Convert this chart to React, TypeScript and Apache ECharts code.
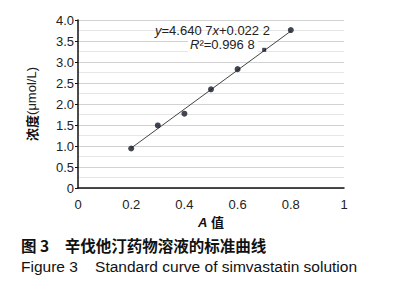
import React, { useEffect, useRef } from "react";
import * as echarts from "echarts";

const absorbance = [0.2, 0.3, 0.4, 0.5, 0.6, 0.7, 0.8];
const concentration = [0.94, 1.49, 1.77, 2.35, 2.83, 3.29, 3.76];
const slope = 4.6407;
const intercept = 0.0222;
const fitRange = [0.2, 0.8];
const equationText = "{i|y}=4.640 7{i|x}+0.022 2";
const r2Text = "{i|R}²=0.996 8";
const yAxisName = "{b|浓度}(μmol/L)";
const xAxisName = "{i|A} 值";
const captionZh = "图 3　辛伐他汀药物溶液的标准曲线";
const captionEn = "Figure 3    Standard curve of simvastatin solution";

const FONT = "'Liberation Sans', Arial, 'Noto Sans CJK SC', sans-serif";

export default function App() {
  const ref = useRef<HTMLDivElement>(null);
  useEffect(() => {
    document.body.style.margin = "0";
    if (!ref.current) return;
    const chart = echarts.init(ref.current, undefined, { renderer: "svg" });
    const points = absorbance.map((x, i) => [x, concentration[i]]);
    const fit = fitRange.map((x) => [x, slope * x + intercept]);
    chart.setOption({
      animation: false,
      backgroundColor: "#fff",
      grid: { left: 78, right: 55, top: 20, bottom: 112, containLabel: false },
      xAxis: {
        type: "value",
        min: 0,
        max: 1,
        interval: 0.2,
        name: xAxisName,
        nameLocation: "middle",
        nameGap: 27,
        nameTextStyle: {
          color: "#111",
          fontSize: 13,
          fontFamily: FONT,
          fontWeight: "bold",
          rich: { i: { fontStyle: "italic", fontSize: 13, fontFamily: FONT, fontWeight: "bold", color: "#111" } },
        },
        axisLine: { show: true, onZero: false, lineStyle: { color: "#111", width: 1.5 } },
        axisTick: { show: false },
        splitLine: { show: false },
        axisLabel: {
          color: "#222",
          fontSize: 13,
          fontFamily: FONT,
          margin: 10,
          formatter: (v: number) => (v === 0 || v === 1 ? String(v) : v.toFixed(1)),
        },
      },
      yAxis: {
        type: "value",
        min: 0,
        max: 4,
        interval: 0.5,
        name: yAxisName,
        nameLocation: "middle",
        nameGap: 40,
        nameTextStyle: {
          color: "#222",
          fontSize: 13,
          fontFamily: FONT,
          rich: { b: { fontWeight: "bold", fontSize: 13, fontFamily: "'Noto Sans CJK SC', sans-serif", color: "#111" } },
        },
        axisLine: { show: true, onZero: false, lineStyle: { color: "#111", width: 1.5 } },
        axisTick: { show: true, length: 3, lineStyle: { color: "#111" } },
        axisLabel: {
          color: "#222",
          fontSize: 13,
          fontFamily: FONT,
          margin: 4,
          formatter: (v: number) => (v === 0 ? "0" : v.toFixed(1)),
        },
        splitLine: { show: true, lineStyle: { color: "#d2d2d2", width: 1 } },
        minorTick: { show: false, splitNumber: 2 },
        minorSplitLine: { show: true, lineStyle: { color: "#e6e6e6", width: 1 } },
      },
      series: [
        {
          type: "line",
          data: fit,
          symbol: "none",
          lineStyle: { color: "#444", width: 1 },
          z: 2,
        },
        {
          type: "scatter",
          data: points,
          symbol: (_v: any, p: any) => (p.dataIndex === 5 ? "rect" : "circle"),
          symbolSize: (_v: any, p: any) => (p.dataIndex === 5 ? 4 : 6),
          itemStyle: { color: "#111827" },
          z: 3,
        },
      ],
      graphic: [
        {
          type: "text",
          left: 155,
          top: 24,
          z: 100,
          style: {
            text: equationText,
            fontSize: 13,
            fontFamily: FONT,
            fill: "#222",
            rich: { i: { fontStyle: "italic", fontSize: 13, fontFamily: FONT, fill: "#222" } },
          },
        },
        {
          type: "text",
          left: 188,
          top: 37,
          z: 100,
          style: {
            text: r2Text,
            fontSize: 13,
            fontFamily: FONT,
            fill: "#222",
            backgroundColor: "#fff",
            padding: [1, 3, 1, 2],
            rich: { i: { fontStyle: "italic", fontSize: 13, fontFamily: FONT, fill: "#222" } },
          },
        },
        {
          type: "text",
          left: 21,
          top: 237,
          z: 100,
          style: {
            text: captionZh,
            fontSize: 15.5,
            fontWeight: "bold",
            fontFamily: "'Noto Sans CJK SC', sans-serif",
            fill: "#111",
          },
        },
        {
          type: "text",
          left: 21,
          top: 259,
          z: 100,
          style: {
            text: captionEn,
            fontSize: 15.5,
            fontFamily: FONT,
            fill: "#111",
          },
        },
      ],
    });
    return () => chart.dispose();
  }, []);
  return <div ref={ref} style={{ width: 399, height: 300 }} />;
}
